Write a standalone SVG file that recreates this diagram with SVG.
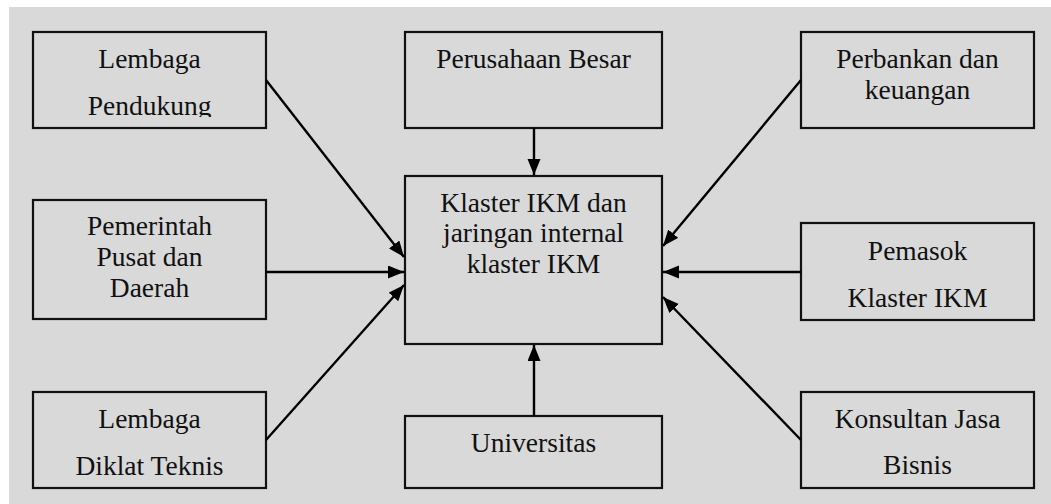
<svg xmlns="http://www.w3.org/2000/svg" width="1051" height="504" viewBox="0 0 1051 504">
<style>
.box{fill:#d9d9d9;stroke:#111;stroke-width:2.2}
.t{font-family:"Liberation Serif","Times New Roman",serif;font-size:27.5px;fill:#111;text-anchor:middle}
.c{stroke:#000;stroke-width:2.4;fill:none;marker-end:url(#ah)}
</style>
<defs>
<marker id="ah" markerUnits="userSpaceOnUse" markerWidth="17" markerHeight="14" refX="16" refY="6.5" orient="auto">
<path d="M0,0 L16,6.5 L0,13 z" fill="#000"/>
</marker>
<clipPath id="clipLP"><rect x="33" y="32" width="233" height="85"/></clipPath>
</defs>
<rect x="9" y="7" width="1042" height="497" fill="#d9d9d9"/>
<g id="lembaga-pendukung">
<rect class="box" x="33" y="32" width="233" height="96"/>
<g clip-path="url(#clipLP)">
<text class="t" x="149.5" y="68">Lembaga</text>
<text class="t" x="149.5" y="115">Pendukung</text>
</g>
</g>
<g id="pemerintah">
<rect class="box" x="33" y="200" width="233" height="119"/>
<text class="t" x="149.5" y="235">Pemerintah</text>
<text class="t" x="149.5" y="266">Pusat dan</text>
<text class="t" x="149.5" y="297">Daerah</text>
</g>
<g id="lembaga-diklat">
<rect class="box" x="33" y="392" width="233" height="96"/>
<text class="t" x="149.5" y="428">Lembaga</text>
<text class="t" x="149.5" y="475">Diklat Teknis</text>
</g>
<g id="perusahaan-besar">
<rect class="box" x="405" y="32" width="257" height="96"/>
<text class="t" x="533.5" y="68">Perusahaan Besar</text>
</g>
<g id="klaster">
<rect class="box" x="405" y="176" width="257" height="168"/>
<text class="t" x="533.5" y="212">Klaster IKM dan</text>
<text class="t" x="533.5" y="242">jaringan internal</text>
<text class="t" x="533.5" y="273">klaster IKM</text>
</g>
<g id="universitas">
<rect class="box" x="405" y="416" width="257" height="72"/>
<text class="t" x="533.5" y="452">Universitas</text>
</g>
<g id="perbankan">
<rect class="box" x="801" y="32" width="233" height="96"/>
<text class="t" x="917.5" y="68">Perbankan dan</text>
<text class="t" x="917.5" y="99">keuangan</text>
</g>
<g id="pemasok">
<rect class="box" x="801" y="223" width="233" height="97"/>
<text class="t" x="917.5" y="260">Pemasok</text>
<text class="t" x="917.5" y="307">Klaster IKM</text>
</g>
<g id="konsultan">
<rect class="box" x="801" y="392" width="233" height="96"/>
<text class="t" x="917.5" y="428">Konsultan Jasa</text>
<text class="t" x="917.5" y="474">Bisnis</text>
</g>
<g id="connectors">
<line class="c" x1="266" y1="80" x2="404" y2="257"/>
<line class="c" x1="266" y1="272" x2="404" y2="272"/>
<line class="c" x1="266" y1="440" x2="404" y2="285"/>
<line class="c" x1="534" y1="128" x2="534" y2="175"/>
<line class="c" x1="534" y1="416" x2="534" y2="345"/>
<line class="c" x1="801" y1="80" x2="663" y2="246"/>
<line class="c" x1="801" y1="272" x2="663" y2="272"/>
<line class="c" x1="801" y1="440" x2="663" y2="297"/>
</g>
</svg>
